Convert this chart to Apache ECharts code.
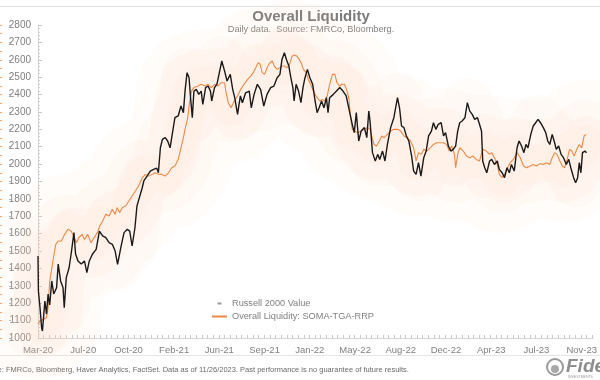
<!DOCTYPE html>
<html><head><meta charset="utf-8">
<script src="https://cdn.jsdelivr.net/npm/echarts@6/dist/echarts.min.js"></script>
<style>html,body{margin:0;padding:0;background:#fff}#c{width:600px;height:380px}</style>
</head><body><div id="c"></div>
<script>
// x values are days since 2020-03-12 (first observation)
const tickDays = [0,112,224,337,449,561,673,785,898,1010,1122,1234,1346];
const tickLabels = ['Mar-20','Jul-20','Oct-20','Feb-21','Jun-21','Sep-21','Jan-22','May-22','Aug-22','Dec-22','Apr-23','Jul-23','Nov-23'];

const russellDays = [0,1,5,9,11,17,21,25,29,34,39,46,50,56,62,65,70,77,82,89,93,99,107,115,121,127,135,144,152,160,168,176,184,191,197,205,213,221,227,233,240,245,251,258,262,270,278,286,294,298,303,308,315,321,327,333,339,347,354,360,364,369,374,378,382,386,392,398,404,408,415,421,427,430,437,443,449,455,462,468,476,482,487,494,501,506,514,523,528,535,543,551,559,567,576,584,592,599,604,610,615,621,626,631,634,639,645,651,656,661,667,673,680,686,691,696,702,708,714,718,722,731,739,747,755,763,771,778,783,788,794,800,808,814,819,822,828,835,841,846,853,859,865,873,881,890,895,900,906,912,918,925,930,936,942,948,955,961,967,974,979,985,991,998,1004,1009,1016,1022,1028,1034,1039,1044,1050,1057,1063,1069,1075,1081,1088,1093,1098,1101,1106,1111,1118,1123,1130,1137,1142,1149,1155,1161,1167,1172,1179,1186,1191,1197,1203,1208,1213,1220,1226,1232,1238,1244,1251,1257,1262,1267,1273,1279,1283,1289,1295,1301,1308,1314,1319,1326,1331,1336,1340,1344,1348,1354,1358];
const russellValues = [1471,1270,1174,1059,1040,1213,1138,1253,1190,1328,1253,1289,1425,1328,1289,1174,1347,1404,1483,1606,1483,1443,1425,1443,1376,1443,1483,1510,1615,1587,1577,1548,1539,1500,1424,1520,1606,1625,1615,1529,1634,1759,1807,1864,1903,1931,1960,1970,1977,1950,2094,2142,2152,2133,2094,2181,2267,2277,2334,2296,2420,2526,2497,2373,2267,2420,2430,2401,2420,2344,2440,2449,2420,2363,2440,2460,2526,2593,2535,2478,2516,2430,2382,2286,2392,2353,2410,2420,2324,2401,2459,2430,2334,2401,2440,2449,2497,2516,2602,2640,2602,2564,2497,2440,2363,2459,2420,2353,2440,2497,2545,2497,2459,2363,2296,2324,2363,2324,2382,2296,2382,2401,2420,2440,2420,2392,2305,2229,2181,2296,2133,2190,2210,2152,2305,2248,2066,2018,2056,2027,2075,2018,2113,2210,2267,2382,2324,2219,2210,2162,2133,2046,1960,1941,2008,1931,2037,2075,2162,2190,2238,2200,2229,2238,2162,2181,2104,2075,2085,2104,2190,2238,2248,2267,2353,2305,2286,2257,2267,2229,2190,2018,1979,1950,2018,2027,1998,2018,1970,1950,1922,1979,1950,1998,1960,2094,2133,2104,2066,2113,2094,2171,2219,2238,2257,2238,2210,2181,2133,2113,2171,2123,2085,2104,2056,2037,1998,2027,1979,1922,1893,1922,2008,1950,2066,2075,2066];

const liquidityDays = [0,5,13,21,25,29,37,44,50,58,66,74,82,88,95,101,109,115,123,131,139,147,153,160,168,176,184,191,196,202,209,217,225,233,241,249,258,266,274,282,290,298,306,315,323,331,339,347,354,360,365,370,375,380,386,396,404,413,421,429,437,445,453,462,465,471,478,486,494,502,510,519,527,533,539,545,550,555,561,567,574,580,585,592,599,604,610,616,623,629,634,641,647,653,657,664,669,675,680,686,691,698,704,710,716,722,729,735,740,747,753,759,765,770,773,778,783,792,800,808,816,822,827,832,838,845,851,857,865,873,881,890,898,906,914,922,930,936,942,949,955,963,971,979,987,996,1004,1012,1018,1024,1031,1034,1039,1044,1053,1061,1069,1077,1085,1093,1101,1110,1118,1123,1130,1137,1142,1149,1155,1161,1169,1177,1186,1194,1202,1210,1218,1226,1234,1243,1251,1259,1267,1273,1279,1285,1292,1298,1304,1310,1316,1322,1327,1334,1340,1346,1352,1357];
const liquidityValues = [1079,1098,1108,1117,1174,1328,1443,1539,1558,1558,1596,1625,1615,1587,1548,1577,1596,1567,1596,1548,1577,1606,1644,1673,1711,1702,1740,1711,1750,1721,1750,1759,1788,1817,1845,1874,1922,1941,1931,1941,1950,1941,1941,1931,1950,1979,1989,2027,2094,2152,2210,2257,2353,2420,2440,2449,2459,2449,2459,2440,2459,2449,2468,2468,2420,2353,2324,2363,2392,2430,2459,2487,2507,2526,2554,2583,2574,2526,2516,2554,2583,2593,2564,2545,2554,2564,2564,2554,2574,2621,2627,2621,2602,2574,2545,2526,2487,2459,2430,2401,2382,2363,2372,2363,2392,2459,2516,2516,2468,2449,2459,2459,2420,2372,2286,2200,2190,2181,2190,2200,2210,2200,2152,2113,2104,2133,2162,2152,2171,2190,2200,2200,2190,2162,2152,2133,2094,2018,2066,2056,2085,2075,2094,2113,2123,2123,2123,2113,2075,2104,2056,1979,2056,2094,2075,2046,2037,2046,2027,2018,2085,2075,2056,2066,2037,1998,1941,1922,1941,1970,2008,2027,2066,2037,1989,1979,1989,1998,1989,2003,1998,2008,1998,2037,2066,2056,2018,1989,1979,2027,2085,2075,2046,2085,2113,2094,2162,2171];

const zip = (a, b) => a.slice(0, Math.min(a.length, b.length)).map((d, i) => [d, b[i]]);
const russell = zip(russellDays, russellValues);
const liquidity = zip(liquidityDays, liquidityValues);

const FONT = "'Liberation Sans', Arial, sans-serif";
const xMinor = [];
for (let d = 0; d <= 1375; d += 14) xMinor.push(d);

function glow(name, data, width, alpha, blur) {
  return {
    name: name, type: 'line', data: data, showSymbol: false, silent: true, z: 0,
    lineStyle: {width: width, color: 'rgba(252,216,186,' + alpha + ')', cap: 'round', join: 'round',
      shadowBlur: blur, shadowColor: 'rgba(252,210,174,' + alpha + ')'}
  };
}

const chart = echarts.init(document.getElementById('c'), null, {renderer: 'canvas'});
chart.setOption({
  animation: false,
  backgroundColor: '#ffffff',
  textStyle: {fontFamily: FONT},
  grid: {left: 38, right: 0, top: 25, bottom: 42},
  legend: {
    orient: 'vertical', left: 207, top: 294, itemWidth: 15, itemHeight: 2, itemGap: 4,
    textStyle: {fontSize: 9.2, color: '#808080', fontFamily: FONT},
    data: [
      {name: 'Russell 2000 Value', icon: 'path://M0,0h2v1h-2z', itemStyle: {color: '#9a9a9a'}},
      {name: 'Overall Liquidity: SOMA-TGA-RRP', icon: 'rect'}
    ]
  },
  xAxis: {
    type: 'value', min: 0, max: 1375,
    axisLine: {show: true, lineStyle: {color: '#d4d4d4', width: 1}},
    axisTick: {show: true, inside: true, length: 3, customValues: xMinor, lineStyle: {color: '#c8c8c8'}},
    axisLabel: {
      customValues: tickDays, fontSize: 9.5, color: '#808080', margin: 7, fontFamily: FONT,
      formatter: v => { const i = tickDays.indexOf(v); return i >= 0 ? tickLabels[i] : ''; }
    },
    splitLine: {show: false}
  },
  yAxis: [
    {
      type: 'value', min: 1000, max: 2800, interval: 100,
      axisLine: {show: true, lineStyle: {color: '#d4d4d4'}},
      axisTick: {show: true, inside: true, length: 4, lineStyle: {color: '#c8c8c8'}},
      minorTick: {show: true, splitNumber: 5, length: 2, lineStyle: {color: '#d0d0d0'}},
      axisLabel: {fontSize: 10, color: '#808080', margin: 7, fontFamily: FONT, formatter: v => String(v)},
      splitLine: {show: false}
    },
    {
      type: 'value', min: 1000, max: 2800, interval: 100, position: 'left', offset: 29,
      axisLine: {show: false}, axisLabel: {show: false}, splitLine: {show: false},
      axisTick: {show: true, inside: true, length: 2, lineStyle: {color: '#b0b0b0'}}
    },
    {
      type: 'value', min: 1000, max: 2800, interval: 50, position: 'left', offset: 36,
      axisLine: {show: false}, axisLabel: {show: false}, splitLine: {show: false},
      axisTick: {show: true, inside: false, length: 2, lineStyle: {color: '#f5a36a'}}
    }
  ],
  series: [
    glow('g1', liquidity, 110, 0.07, 40),
    glow('g2', liquidity, 70, 0.09, 30),
    glow('g3', liquidity, 36, 0.10, 20),
    glow('g4', russell, 50, 0.07, 25),
    {
      name: 'Overall Liquidity: SOMA-TGA-RRP', type: 'line', data: liquidity, showSymbol: false, z: 3,
      itemStyle: {color: '#ec8a45'},
      lineStyle: {width: 1.1, color: '#ec8a45'}
    },
    {
      name: 'Russell 2000 Value', type: 'line', data: russell, showSymbol: false, z: 4,
      itemStyle: {color: '#1a1a1a'},
      lineStyle: {width: 1.4, color: '#1a1a1a'}
    }
  ],
  graphic: [
    {type: 'line', shape: {x1: 0, y1: 6.5, x2: 600, y2: 6.5}, style: {stroke: '#e2e2e2', lineWidth: 1}, silent: true},
    {type: 'line', shape: {x1: 0, y1: 355.5, x2: 600, y2: 355.5}, style: {stroke: '#e6e6e6', lineWidth: 1}, silent: true},
    {type: 'text', x: 311, y: 17, style: {text: 'Overall Liquidity', font: "bold 15px " + FONT, fill: '#7a7a7a', align: 'center', verticalAlign: 'middle'}},
    {type: 'text', x: 311, y: 29.5, style: {text: 'Daily data.  Source: FMRCo, Bloomberg.', font: "9.2px " + FONT, fill: '#808080', align: 'center', verticalAlign: 'middle'}},
    {type: 'text', x: -22, y: 369.5, style: {text: 'Source: FMRCo, Bloomberg, Haver Analytics, FactSet. Data as of 11/26/2023. Past performance is no guarantee of future results.', font: "7.5px " + FONT, fill: '#6a6a6a', align: 'left', verticalAlign: 'middle'}},
    {type: 'circle', shape: {cx: 555, cy: 367, r: 8}, style: {fill: 'none', stroke: '#9a9a9a', lineWidth: 2}},
    {type: 'circle', shape: {cx: 555, cy: 369, r: 4}, style: {fill: '#a8a8a8'}},
    {type: 'text', x: 566, y: 367, style: {text: 'Fidelity', font: "italic bold 19px " + FONT, fill: '#8e8e8e', align: 'left', verticalAlign: 'middle'}},
    {type: 'text', x: 568, y: 377, style: {text: 'INVESTMENTS', font: "3.5px " + FONT, fill: '#9a9a9a', align: 'left', verticalAlign: 'middle'}}
  ]
});
</script></body></html>
